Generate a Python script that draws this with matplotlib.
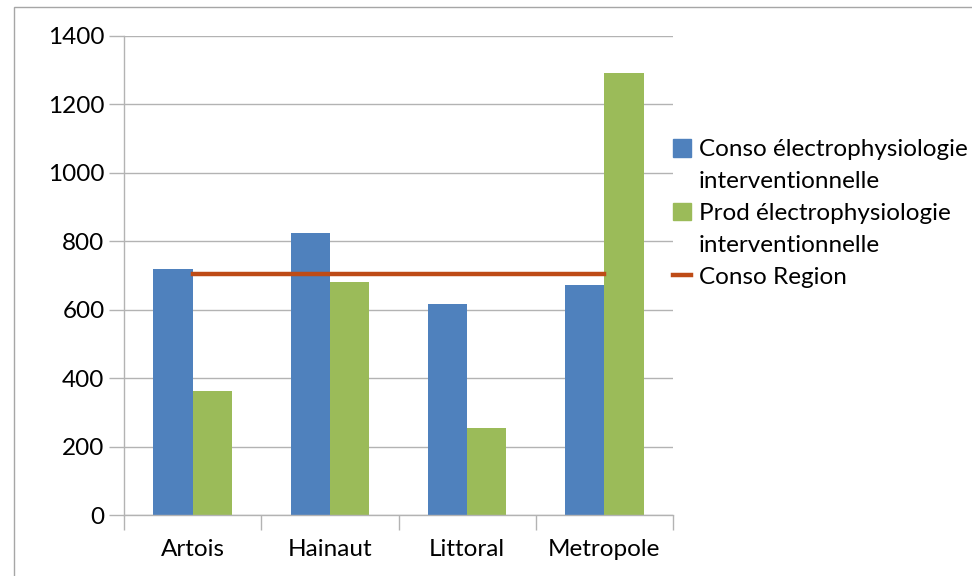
import numpy as np
import matplotlib
matplotlib.use("Agg")
import matplotlib.pyplot as plt
from matplotlib.patches import Rectangle, Patch
from matplotlib.lines import Line2D

plt.rcParams["font.family"] = ["Lato", "DejaVu Sans"]

regions = ["Artois", "Hainaut", "Littoral", "Metropole"]
conso = [718, 823, 618, 671]
prod = [361, 680, 253, 1292]
conso_region = [703, 703, 703, 703]

blue = "#4F81BD"
green = "#9BBB59"
line_col = "#BE4B16"
grid_col = "#B3B3B3"

fig = plt.figure(figsize=(9.72, 5.76), dpi=100)
ax = fig.add_axes([124 / 972, 1 - 515 / 576, 549 / 972, 479 / 576])

x = np.arange(len(regions))
w = 1 / 3.5
ax.bar(x - w / 2, conso, w, color=blue, zorder=2)
ax.bar(x + w / 2, prod, w, color=green, zorder=2)
ax.plot(x, conso_region, color=line_col, lw=3.2, zorder=3)

ax.set_xlim(-0.5, len(regions) - 0.5)
ax.set_ylim(0, 1400)
ax.set_yticks(np.arange(0, 1401, 200))
ax.yaxis.grid(True, color=grid_col, lw=1)
ax.set_axisbelow(True)

ax.set_xticks(np.arange(-0.5, len(regions), 1))
ax.set_xticklabels([])
ax.set_xticks(x, minor=True)
ax.set_xticklabels(regions, minor=True)
ax.tick_params(axis="x", which="major", length=11, color=grid_col, width=1)
ax.tick_params(axis="x", which="minor", length=0, labelsize=17.5, pad=17)
ax.tick_params(axis="y", length=11, color=grid_col, width=1, labelsize=17.5, pad=3)

for side in ["top", "right"]:
    ax.spines[side].set_visible(False)
for side in ["left", "bottom"]:
    ax.spines[side].set_color(grid_col)
    ax.spines[side].set_linewidth(1)

# legend: second line of each wrapped label gets an empty handle
blank = Patch(visible=False)
handles = [Patch(color=blue), blank, Patch(color=green), blank,
           Line2D([], [], color=line_col, lw=3.2)]
labels = ["Conso électrophysiologie", "interventionnelle",
          "Prod électrophysiologie", "interventionnelle", "Conso Region"]
fig.legend(handles, labels, loc="upper left",
           bbox_to_anchor=(673 / 972, 1 - 139 / 576),
           frameon=False, fontsize=17.5, handlelength=0.75, handleheight=0.75,
           handletextpad=0.3, labelspacing=0.43, borderaxespad=0,
           borderpad=0)

# outer chart border, running off the right and bottom edges
fig.patches.append(Rectangle((14 / 972, -0.1), 1.2, 1 - 7 / 576 + 0.1,
                             transform=fig.transFigure, fill=False,
                             edgecolor="#A6A6A6", lw=1))

fig.savefig("out.png", dpi=100)
